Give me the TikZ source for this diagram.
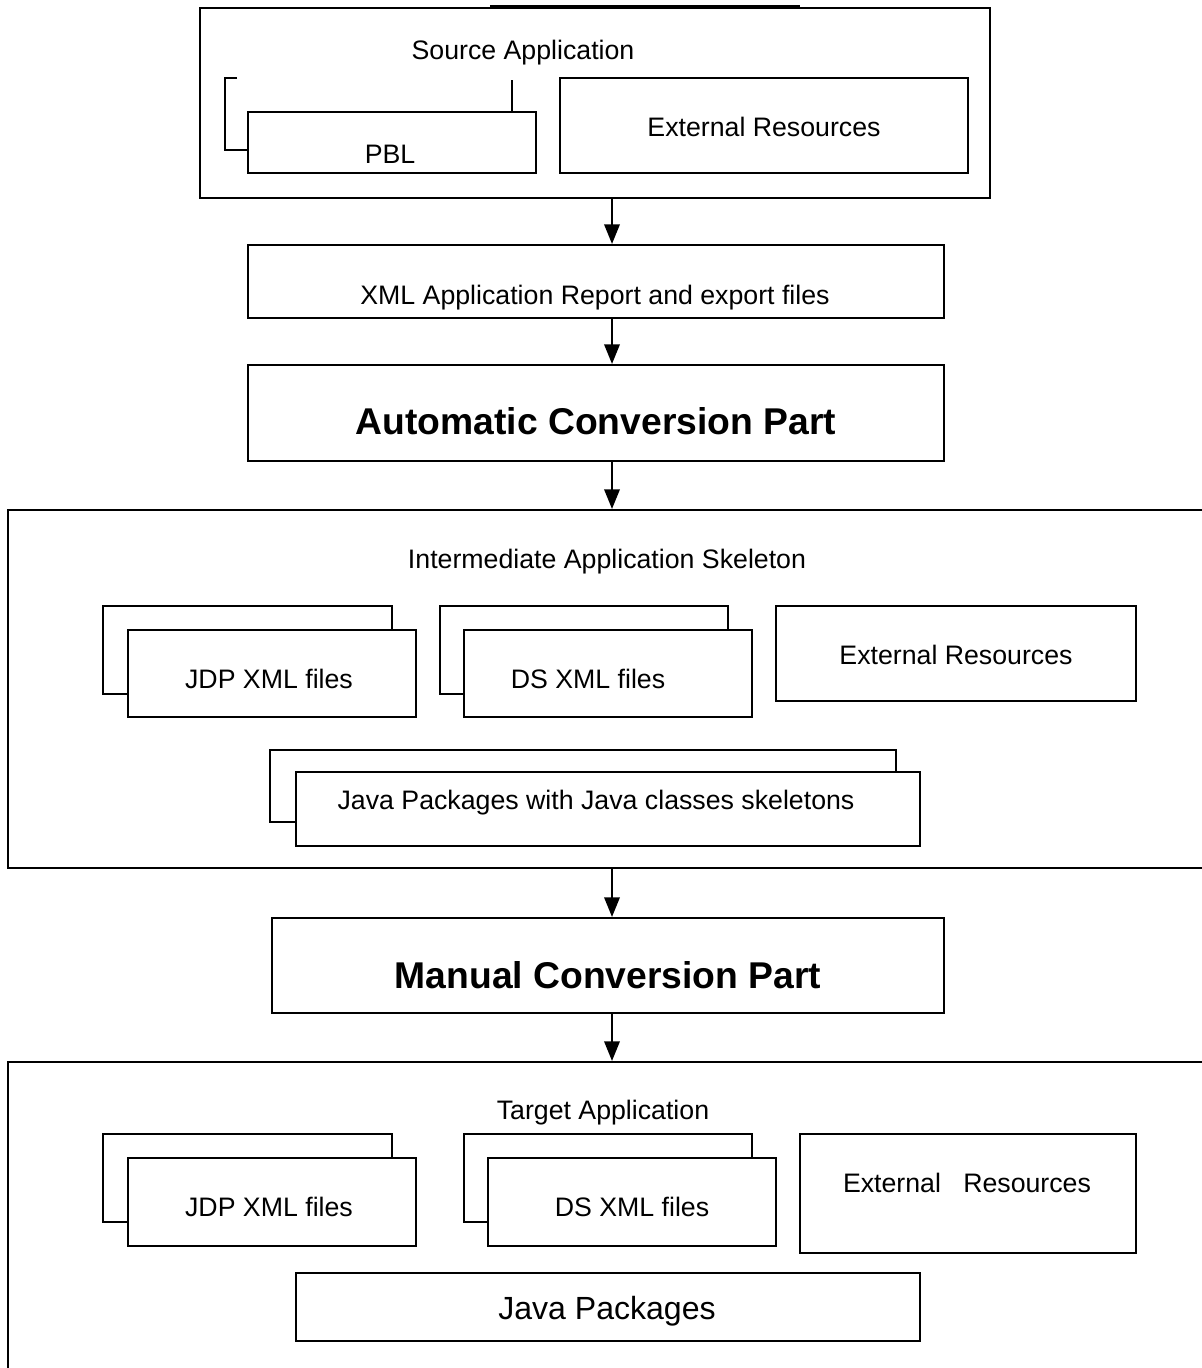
\documentclass[tikz,border=0pt]{standalone}
\usepackage{fontspec}
\setmainfont{Liberation Sans}
\usetikzlibrary{arrows.meta}
\usetikzlibrary{positioning}
\tikzset{block/.style={draw, line width=1.5pt, rectangle, inner sep=0pt, fill=white}}
\tikzset{blk/.style n args={2}{block, minimum width=#1*0.025cm, minimum height=#2*0.025cm}}
\tikzset{connect/.style={draw, line width=1.5pt}}
\tikzset{flow/.style={connect, -{Triangle[width=11pt,length=14pt]}}}
\tikzset{txt/.style={anchor=mid, inner sep=0pt, yshift=-0.15cm, font=\fontsize{19}{23}\selectfont}}
\tikzset{title/.style={anchor=mid, inner sep=0pt, yshift=-0.25cm, font=\fontsize{26.5}{30}\selectfont\bfseries}}

\begin{document}
\begin{tikzpicture}[x=0.025cm,y=-0.025cm]
\useasboundingbox (0,0) rectangle (1202,1368);
\clip (0,0) rectangle (1202,1368);
\coordinate (axis) at (612,0);

% source application
\node[blk={790}{190}] (src) at (595,103) {};
\draw[line width=2.6pt] ([xshift=-2.625cm]src.north) -- ([xshift=5.125cm]src.north);
\node[txt] (srctitle) at (523,50) {Source Application};
\draw[connect] (237,78) -- (225,78) -- (225,150) -- (248,150);
\draw[connect] (512,80) -- (512,112);
\node[blk={288}{61}] (pbl) at (392,142.5) {};
\node[txt] (pbltext) at (390,154) {PBL};
\node[blk={408}{95}] (extsrc) at (764,125.5) {};
\node[txt] (extsrctext) at (764,127) {External Resources};

% report and automatic part
\node[blk={696}{73}] (xmlrep) at (596,281.5) {};
\node[txt] (xmlreptext) at (595,295) {XML Application Report and export files};
\node[blk={696}{96}] (auto) at (596,413) {};
\node[title] (autotext) at (596,421) {Automatic Conversion Part};

% intermediate skeleton
\node[blk={1222}{358}] (inter) at (619,689) {};
\node[txt] (intertitle) at (607,559) {Intermediate Application Skeleton};
\node[blk={289}{88}] (jdpaback) at (247.5,650) {};
\node[blk={288}{87}] (jdpa) at (272,673.5) {};
\node[txt] (jdpatext) at (269,679) {JDP XML files};
\node[blk={288}{88}] (dsaback) at (584,650) {};
\node[blk={288}{87}] (dsa) at (608,673.5) {};
\node[txt] (dsatext) at (588,679) {DS XML files};
\node[blk={360}{95}] (exta) at (956,653.5) {};
\node[txt] (extatext) at (956,655) {External Resources};
\node[blk={626}{72}] (javaback) at (583,786) {};
\node[blk={624}{74}] (java) at (608,809) {};
\node[txt] (javatext) at (596,800) {Java Packages with Java classes skeletons};

% manual part
\node[blk={672}{95}] (manual) at (608,965.5) {};
\node[title] (manualtext) at (608,975) {Manual Conversion Part};

% target application
\node[blk={1222}{338}] (target) at (619,1231) {};
\node[txt] (targettitle) at (603,1110) {Target Application};
\node[blk={289}{88}] (jdpbback) at (247.5,1178) {};
\node[blk={288}{88}] (jdpb) at (272,1202) {};
\node[txt] (jdpbtext) at (269,1207) {JDP XML files};
\node[blk={288}{88}] (dsbback) at (608,1178) {};
\node[blk={288}{88}] (dsb) at (632,1202) {};
\node[txt] (dsbtext) at (632,1207) {DS XML files};
\node[blk={336}{119}] (extb) at (968,1193.5) {};
\node[txt] (extbtext) at (967,1183) {External \ \ Resources};
\node[blk={624}{68}] (javapkg) at (608,1307) {};
\node[txt,yshift=-0.05cm,font=\fontsize{22.8}{27}\selectfont] (javapkgtext) at (607,1308) {Java Packages};

% flow
\path[flow] (src.south -| axis) -- (xmlrep.north -| axis);
\path[flow] (xmlrep.south -| axis) -- (auto.north -| axis);
\path[flow] (auto.south -| axis) -- (inter.north -| axis);
\path[flow] (inter.south -| axis) -- (manual.north -| axis);
\path[flow] (manual.south -| axis) -- (target.north -| axis);
\end{tikzpicture}
\end{document}
